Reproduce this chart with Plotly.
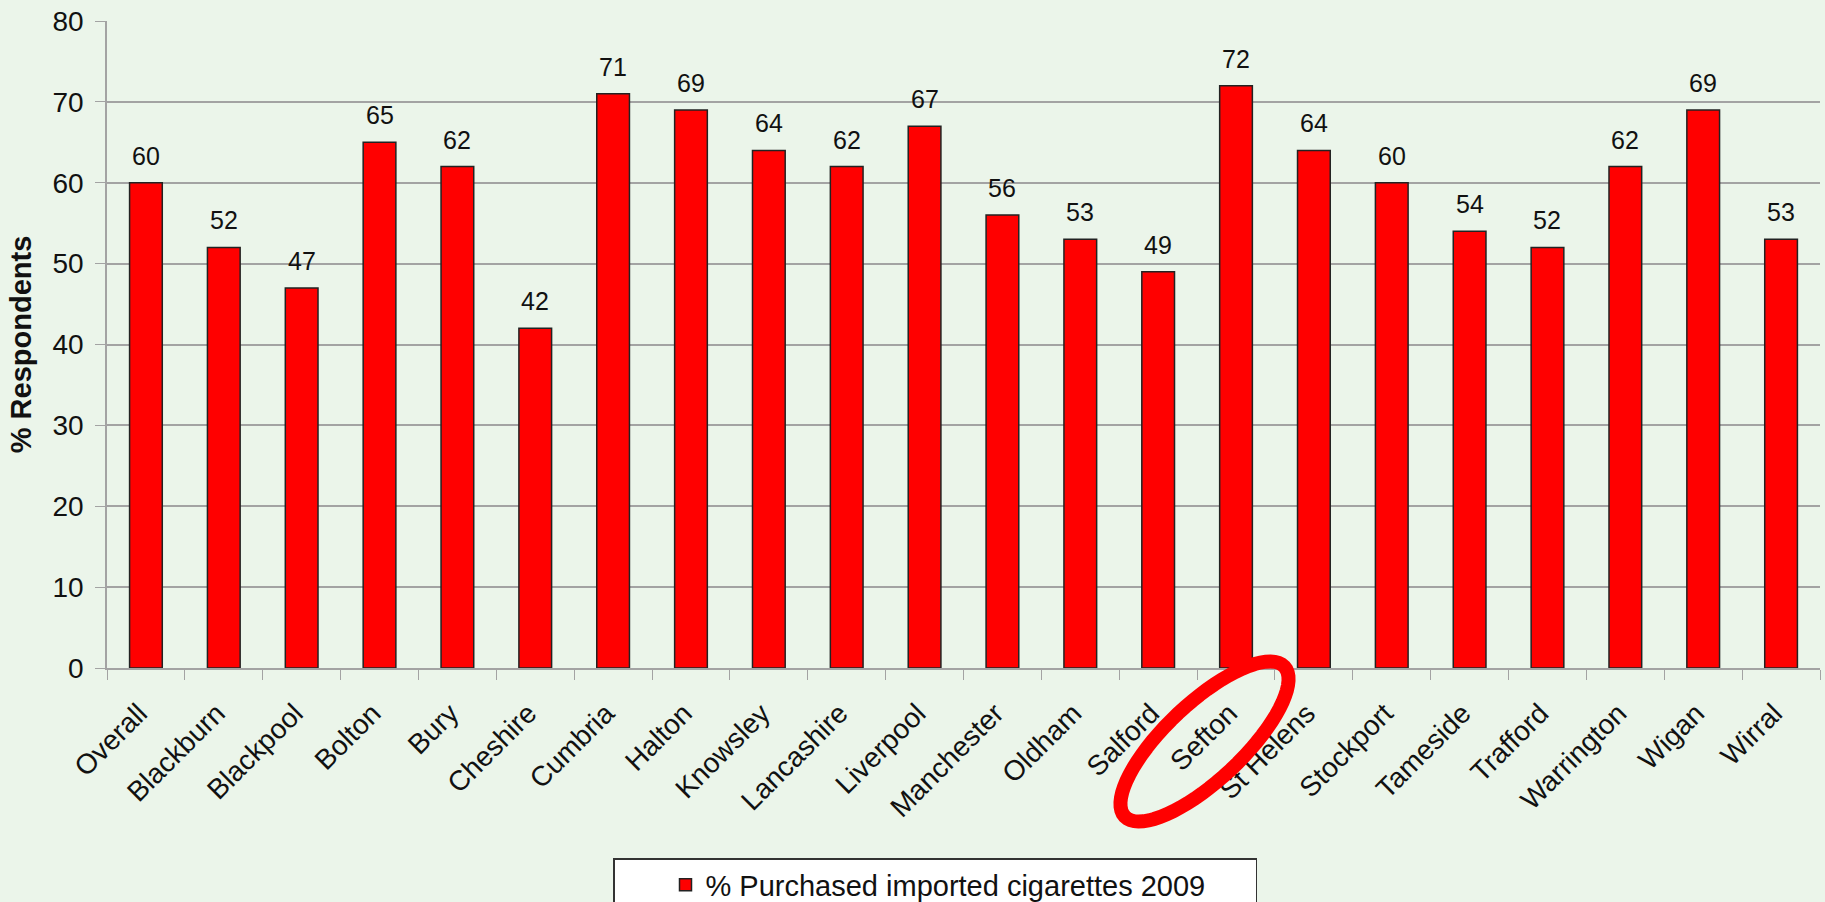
import math
import plotly.graph_objects as go

# Survey results by area
areas = ["Overall", "Blackburn", "Blackpool", "Bolton", "Bury", "Cheshire", "Cumbria",
         "Halton", "Knowsley", "Lancashire", "Liverpool", "Manchester", "Oldham",
         "Salford", "Sefton", "St Helens", "Stockport", "Tameside", "Trafford",
         "Warrington", "Wigan", "Wirral"]
pct_imported = [60, 52, 47, 65, 62, 42, 71, 69, 64, 62, 67, 56, 53, 49, 72, 64, 60,
                54, 52, 62, 69, 53]
series_name = "% Purchased imported cigarettes 2009"
y_ticks = [0, 10, 20, 30, 40, 50, 60, 70, 80]

W, H = 1825, 902
ML, MR, MT, MB = 107, 5, 21, 234
PW, PH = W - ML - MR, H - MT - MB

BG = "#EBF5EA"
GRID = "#A3A3A3"
INK = "#111111"
FONT = "Arial, Liberation Sans, sans-serif"

fig = go.Figure()
fig.add_trace(go.Bar(
    x=areas, y=pct_imported, name=series_name,
    marker=dict(color="#FF0000", line=dict(color="#222222", width=1.5)),
    width=0.42, showlegend=True,
))

# value labels above each bar
for a, v in zip(areas, pct_imported):
    fig.add_annotation(x=a, y=v, xref="x", yref="y", text=str(v), showarrow=False,
                       yanchor="bottom", yshift=11,
                       font=dict(family=FONT, size=25, color=INK))


def to_paper(px, py):
    return (px - ML) / PW, (MT + PH - py) / PH


# tilted ring drawn around the Sefton label
cx, cy, a_ax, b_ax, theta = 1204.5, 741.5, 109.5, 38.5, math.radians(43.2)
pts = []
for k in range(73):
    t = 2 * math.pi * k / 72
    px = cx + a_ax * math.cos(t) * math.cos(theta) - b_ax * math.sin(t) * math.sin(theta)
    py = cy - (a_ax * math.cos(t) * math.sin(theta) + b_ax * math.sin(t) * math.cos(theta))
    pts.append(to_paper(px, py))
path = "M" + " L".join(f"{x:.5f},{y:.5f}" for x, y in pts) + " Z"
fig.add_shape(type="path", path=path, xref="paper", yref="paper",
              line=dict(color="#FF0000", width=14), layer="above")

fig.update_layout(
    width=W, height=H,
    margin=dict(l=ML, r=MR, t=MT, b=MB, autoexpand=False),
    paper_bgcolor=BG, plot_bgcolor=BG,
    font=dict(family=FONT, color=INK),
    showlegend=True,
    legend=dict(
        orientation="h", x=(613 - ML) / PW, xanchor="left",
        y=to_paper(0, 858)[1], yanchor="top",
        bgcolor="#FFFFFF", bordercolor="#333333", borderwidth=1.5,
        font=dict(family=FONT, size=29, color=INK),
        entrywidth=545, indentation=51,
    ),
    bargap=0.58,
)
fig.update_xaxes(
    type="category", tickangle=-45, tickson="boundaries", ticks="outside", ticklen=10,
    tickcolor=GRID, showline=True, linecolor=GRID, linewidth=1.5, showgrid=False,
    tickfont=dict(family=FONT, size=28, color=INK), automargin=False,
    ticklabelstandoff=16, ticklabelshift=-7,
)
fig.update_yaxes(
    range=[0, 80], tickvals=y_ticks, ticks="outside", ticklen=10, tickcolor=GRID,
    showline=True, linecolor=GRID, linewidth=1.5, showgrid=True, gridcolor=GRID,
    gridwidth=1.5, zeroline=False, ticklabelstandoff=6,
    tickfont=dict(family=FONT, size=28, color=INK), automargin=False,
    title=dict(text="<b>% Respondents</b>", font=dict(family=FONT, size=29, color=INK),
               standoff=12),
)

fig.write_html("out.html")
